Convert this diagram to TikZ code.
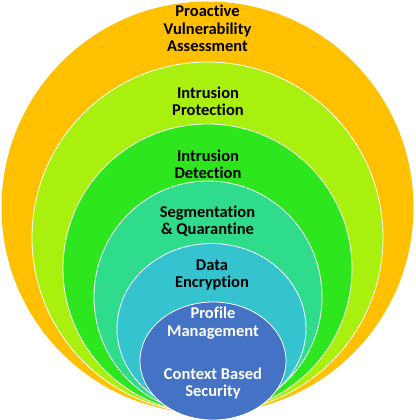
\documentclass[tikz,border=0pt]{standalone}
\usepackage{fontspec}
\setmainfont{Carlito}[Ligatures={NoCommon,NoContextual}]
\definecolor{cOrange}{RGB}{255,192,0}
\definecolor{cLime}{RGB}{170,240,15}
\definecolor{cGreen}{RGB}{46,230,30}
\definecolor{cTeal}{RGB}{46,220,140}
\definecolor{cCyan}{RGB}{53,196,207}
\definecolor{cBlue}{RGB}{68,114,196}
\tikzset{
  ring/.style={draw=white, line width=0.8pt},
  lbl/.style={align=center, font=\fontsize{16.5}{17.4}\selectfont\bfseries, text=black, inner sep=0pt},
  wlbl/.style={lbl, text=white}
}
\begin{document}
\begin{tikzpicture}[x=1pt,y=-1pt]
\useasboundingbox (0,0) rectangle (415,420);
\fill[cOrange] (207.5,207.5) ellipse [x radius=206, y radius=206];
\path[ring, fill=cLime] (207.5,237.5) ellipse [x radius=175.5, y radius=175.5];
\path[ring, fill=cGreen] (207.5,268.5) ellipse [x radius=144.5, y radius=144.5];
\path[ring, fill=cTeal] (208,297) ellipse [x radius=114, y radius=116];
\path[ring, fill=cCyan] (211.5,328.5) ellipse [x radius=94.5, y radius=85];
\path[ring, fill=cBlue] (213,361) ellipse [x radius=73, y radius=59];
\node[lbl] (pva) at (207.5,28.5) {Proactive\\Vulnerability\\Assessment};
\node[lbl] (ip) at (208,101.5) {Intrusion\\Protection};
\node[lbl] (id) at (208,164) {Intrusion\\Detection};
\node[lbl] (sq) at (207.5,221.5) {Segmentation\\\& Quarantine};
\node[lbl] (de) at (212,275) {Data\\Encryption};
\node[wlbl] (pm) at (213,323) {Profile\\Management};
\node[wlbl] (cbs) at (213,383.5) {Context Based\\Security};
\end{tikzpicture}
\end{document}
